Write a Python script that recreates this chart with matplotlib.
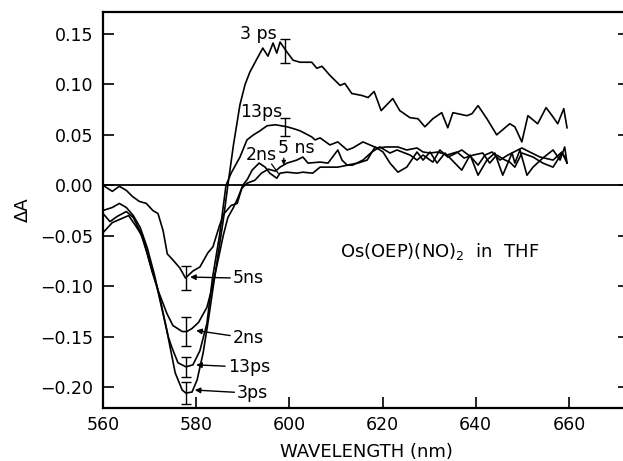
import matplotlib
matplotlib.use("Agg")
import matplotlib.pyplot as plt

plt.rcParams['font.family'] = ['DejaVu Sans']

# ---- data ----
wl_3ps = [560, 562, 564, 565.5, 567, 568.6, 569.7, 571.6, 573.7, 575.5, 577, 577.8, 579.1, 580.2,
          581.5, 582.5, 584, 585.8, 586.8, 588, 589.4, 590.5, 591.5, 593, 594.3, 595.4, 596.5,
          597.3, 598, 599.5, 600.8, 602.3, 604.8, 605.9, 607, 608.7, 610.9, 611.9, 613.4, 615.6,
          616.9, 618.2, 619.7, 622.2, 623.7, 625.9, 627.6, 629.1, 630.8, 632.7, 634, 635.1, 638.1,
          639.2, 640.5, 642.4, 644.5, 647.3, 648.4, 649.9, 651.2, 653.3, 655.1, 656.4, 657.6,
          658.9, 659.6]
dA_3ps = [-0.047, -0.037, -0.033, -0.030, -0.040, -0.052, -0.071, -0.101, -0.144, -0.186, -0.203,
          -0.206, -0.205, -0.193, -0.166, -0.137, -0.090, -0.035, 0.000, 0.040, 0.080, 0.100,
          0.112, 0.125, 0.136, 0.128, 0.141, 0.131, 0.142, 0.132, 0.124, 0.122, 0.122, 0.116,
          0.118, 0.109, 0.099, 0.101, 0.091, 0.089, 0.087, 0.093, 0.074, 0.086, 0.074, 0.067,
          0.066, 0.058, 0.066, 0.072, 0.057, 0.072, 0.069, 0.071, 0.079, 0.066, 0.050, 0.061,
          0.058, 0.043, 0.069, 0.061, 0.077, 0.069, 0.061, 0.076, 0.057]

wl_13ps = [560, 562, 563.5, 565, 566.5, 568, 569.5, 571, 572.5, 574, 574.8, 576.1, 577.8, 579.3,
           580.8, 582.3, 583.5, 585, 586.4, 587.5, 589.4, 590.9, 592.3, 593.7, 595.2, 597, 599.5,
           601, 602.3, 604.8, 605.5, 606.6, 608.7, 610.4, 612.4, 613.6, 615.8, 618.8, 620.9,
           623.3, 625.2, 627.4, 628.7, 630.2, 631.9, 633.8, 636, 637.5, 639.5, 641.5, 643, 644.5,
           646.3, 647.3, 648.4, 649.9, 652.3, 654.4, 656.6, 658.5, 659.3]
dA_13ps = [-0.025, -0.022, -0.018, -0.022, -0.030, -0.042, -0.062, -0.088, -0.118, -0.150,
           -0.161, -0.176, -0.180, -0.178, -0.164, -0.137, -0.092, -0.050, 0.000, 0.012, 0.028,
           0.045, 0.050, 0.054, 0.059, 0.060, 0.058, 0.056, 0.054, 0.048, 0.045, 0.047, 0.040,
           0.043, 0.035, 0.037, 0.043, 0.037, 0.038, 0.038, 0.035, 0.037, 0.033, 0.032, 0.033,
           0.030, 0.033, 0.027, 0.030, 0.032, 0.022, 0.030, 0.025, 0.023, 0.018, 0.032, 0.028,
           0.022, 0.018, 0.032, 0.027]

wl_2ns = [560, 561.5, 563, 565, 566.5, 568, 569.5, 570.5, 571.8, 573.7, 575, 577, 578, 579.1,
          580.5, 582.3, 583.5, 584.8, 585.8, 586.8, 588, 589, 590, 591, 592, 593.5, 594.8, 595.8,
          597.3, 598, 599.5, 601.6, 602.9, 605, 606.6, 608.7, 610.4, 612.6, 613.6, 615.8, 617.7,
          619.4, 621.6, 623.1, 625.9, 627.4, 628.7, 630.8, 632.3, 634, 635, 637, 639, 640.5, 642,
          643.5, 645.2, 646.9, 649.9, 651.6, 653.8, 656.6, 658.5, 659.6]
dA_2ns = [-0.028, -0.036, -0.031, -0.026, -0.032, -0.046, -0.068, -0.085, -0.104, -0.127, -0.139,
          -0.145, -0.145, -0.142, -0.136, -0.121, -0.100, -0.072, -0.050, -0.032, -0.022, -0.012,
          0.000, 0.006, 0.015, 0.022, 0.018, 0.012, 0.007, 0.012, 0.013, 0.012, 0.013, 0.012,
          0.018, 0.018, 0.018, 0.020, 0.020, 0.025, 0.033, 0.038, 0.032, 0.035, 0.030, 0.025,
          0.030, 0.023, 0.035, 0.028, 0.030, 0.035, 0.028, 0.020, 0.030, 0.033, 0.025, 0.030,
          0.037, 0.033, 0.028, 0.025, 0.033, 0.022]

wl_5ns = [560, 562, 563.5, 565, 566.3, 567.8, 569.3, 570.7, 571.8, 572.9, 573.8, 575, 576.5,
          577.7, 579.3, 580.8, 582.5, 583.6, 585, 586, 587.5, 588.8, 589.8, 590.9, 592.6, 594,
          595.5, 597, 598, 599.5, 601.6, 602.9, 604, 606.6, 608.3, 610.4, 611.3, 612.4, 614.7,
          616.7, 618.4, 620.1, 621.6, 623.3, 625.2, 627.4, 628.7, 630.2, 631.7, 633.4, 634.9, 637,
          638.8, 640.5, 642.4, 644.1, 645.8, 647.8, 648.4, 649.5, 651, 652.3, 654.4, 656.6, 658.1,
          659.1, 659.6]
dA_5ns = [0.000, -0.006, -0.001, -0.005, -0.011, -0.016, -0.018, -0.025, -0.028, -0.045, -0.068,
          -0.074, -0.082, -0.092, -0.085, -0.081, -0.067, -0.061, -0.040, -0.028, -0.020, -0.018,
          -0.003, 0.002, 0.005, 0.012, 0.016, 0.014, 0.018, 0.022, 0.025, 0.028, 0.022, 0.023,
          0.022, 0.035, 0.025, 0.020, 0.022, 0.025, 0.038, 0.033, 0.022, 0.013, 0.018, 0.033,
          0.025, 0.033, 0.022, 0.032, 0.025, 0.015, 0.030, 0.010, 0.025, 0.032, 0.010, 0.032,
          0.022, 0.035, 0.010, 0.018, 0.027, 0.035, 0.025, 0.038, 0.022]

# error bars
eb_wl = [577.8, 577.8, 577.8, 577.8, 599.0, 599.0]
eb_val = [-0.092, -0.145, -0.180, -0.206, 0.133, 0.058]
eb_err = [0.012, 0.014, 0.010, 0.011, 0.012, 0.009]

x_ticks = [560, 580, 600, 620, 640, 660]
y_ticks = [-0.20, -0.15, -0.10, -0.05, 0.00, 0.05, 0.10, 0.15]

# ---- figure ----
fig = plt.figure(figsize=(6.23, 4.61), dpi=100)
ax = fig.add_axes([103/623, 53/461, 526/623, 396/461])

lw = 1.2
for wl, dA in [(wl_3ps, dA_3ps), (wl_13ps, dA_13ps), (wl_2ns, dA_2ns), (wl_5ns, dA_5ns)]:
    ax.plot(wl, dA, color='black', lw=lw)

ax.axhline(0.0, color='black', lw=1.3)

ax.errorbar(eb_wl, eb_val, yerr=eb_err, fmt='none', ecolor='black', elinewidth=1.0,
            capsize=3.5, capthick=1.0)

ax.set_xlim(560, 672.9)
ax.set_ylim(-0.2208, 0.1718)
ax.set_xticks(x_ticks)
ax.set_yticks(y_ticks)
ax.set_yticklabels([f"{v:.2f}".replace('-', '\u2212') for v in y_ticks])

ax.tick_params(direction='in', length=8, width=1.2, labelsize=12.5, right=True, top=False)
ax.tick_params(axis='x', pad=6)
ax.tick_params(axis='y', pad=7)
for s in ax.spines.values():
    s.set_linewidth(1.6)

ax.set_xlabel('WAVELENGTH (nm)', fontsize=13, labelpad=6)
ax.set_ylabel('\u0394A', fontsize=13, labelpad=6)

fs = 12.5
arrow = dict(arrowstyle='-|>', color='black', lw=1.0, mutation_scale=8, shrinkA=0, shrinkB=0)
ax.annotate('5ns', xy=(578.7, -0.091), xytext=(587.9, -0.0922), fontsize=fs,
            va='center', ha='left', arrowprops=arrow)
ax.annotate('2ns', xy=(580.0, -0.144), xytext=(587.9, -0.1517), fontsize=fs,
            va='center', ha='left', arrowprops=arrow)
ax.annotate('13ps', xy=(580.0, -0.178), xytext=(586.8, -0.1805), fontsize=fs,
            va='center', ha='left', arrowprops=arrow)
ax.annotate('3ps', xy=(579.7, -0.203), xytext=(588.8, -0.2062), fontsize=fs,
            va='center', ha='left', arrowprops=arrow)

ax.text(593.3, 0.150, '3 ps', fontsize=fs, ha='center', va='center')
ax.text(593.9, 0.073, '13ps', fontsize=fs, ha='center', va='center')
ax.text(594.0, 0.030, '2ns', fontsize=fs, ha='center', va='center')
ax.text(601.5, 0.037, '5 ns', fontsize=fs, ha='center', va='center')
ax.plot([596.2, 597.6], [0.021, 0.012], color='black', lw=0.9)
ax.annotate('', xy=(598.8, 0.020), xytext=(598.8, 0.027),
            arrowprops=dict(arrowstyle='-|>', color='black', lw=0.9, mutation_scale=6,
                            shrinkA=0, shrinkB=0))

ax.text(610.9, -0.066, r'Os(OEP)(NO)$_2$  in  THF', fontsize=13, ha='left', va='center')

fig.savefig('out.png', dpi=100)
